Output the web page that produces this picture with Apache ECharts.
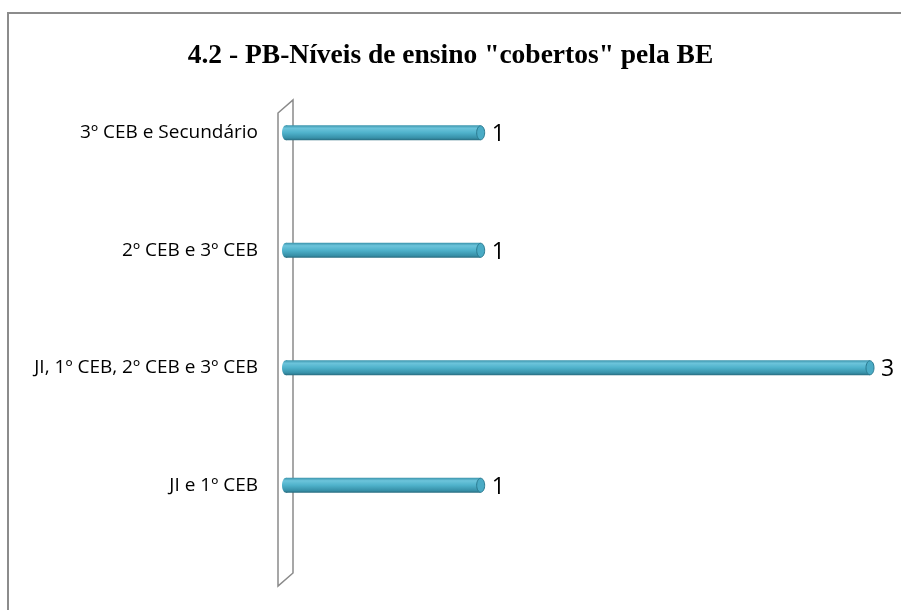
<!DOCTYPE html>
<html>
<head>
<meta charset="utf-8">
<script src="https://cdn.jsdelivr.net/npm/echarts@6/dist/echarts.min.js"></script>
<style>
  html, body { margin: 0; padding: 0; background: #fff; }
  #chart { width: 901px; height: 610px; }
</style>
</head>
<body>
<div id="chart"></div>
<script>
// bottom-to-top, as a category axis lists them
var categories = ['JI e 1º CEB', 'JI, 1º CEB, 2º CEB e 3º CEB', '2º CEB e 3º CEB', '3º CEB e Secundário'];
var counts = [1, 3, 1, 1];
var titleText = '4.2 - PB-Níveis de ensino "cobertos" pela BE';

var chart = echarts.init(document.getElementById('chart'));

var barFill = new echarts.graphic.LinearGradient(0, 0, 0, 1, [
    { offset: 0, color: '#3a93ab' },
    { offset: 0.2, color: '#6cc4db' },
    { offset: 0.5, color: '#4fb2cb' },
    { offset: 0.85, color: '#3790a8' },
    { offset: 1, color: '#286b7e' }
]);

function renderCylinder(params, api) {
    var val = api.value(0);
    var cat = api.value(1);
    var start = api.coord([0, cat]);
    var end = api.coord([val, cat]);
    var h = 15, rx = 4;
    var y0 = start[1] - h / 2;
    return {
        type: 'group',
        children: [
            { type: 'ellipse', shape: { cx: start[0], cy: start[1], rx: rx, ry: h / 2 },
              style: { fill: barFill } },
            { type: 'rect', shape: { x: start[0], y: y0, width: end[0] - start[0], height: h },
              style: { fill: barFill } },
            { type: 'ellipse', shape: { cx: end[0], cy: end[1], rx: rx, ry: h / 2 - 0.5 },
              style: { fill: '#4aabc5', stroke: '#2b7a90', lineWidth: 1 } },
            { type: 'text', x: end[0] + 11, y: end[1] + 2,
              style: { text: String(val), fill: '#000', font: '23px "Open Sans"', verticalAlign: 'middle', align: 'left' } }
        ]
    };
}

chart.setOption({
    backgroundColor: '#fff',
    animation: false,
    title: {
        text: titleText,
        left: 'center',
        top: 37,
        textStyle: { fontFamily: 'Liberation Serif', fontWeight: 'bold', fontSize: 27.5, color: '#000' }
    },
    grid: { left: 286, right: 31, top: 74, bottom: 66 },
    xAxis: {
        type: 'value', min: 0, max: 3,
        show: false
    },
    yAxis: {
        type: 'category',
        data: categories,
        axisLine: { show: false },
        axisTick: { show: false },
        splitLine: { show: false },
        axisLabel: { color: '#000', fontFamily: 'Open Sans', fontSize: 19, margin: 28 }
    },
    graphic: [
        { type: 'rect', z: -10, shape: { x: 8, y: 13, width: 900, height: 610 },
          style: { fill: 'none', stroke: '#8c8c8c', lineWidth: 2 } },
        { type: 'polygon', z: -5, shape: { points: [[278, 113], [293, 100], [293, 573], [278, 586]] },
          style: { fill: 'none', stroke: '#8a8a8a', lineWidth: 1.5 } }
    ],
    series: [{
        type: 'custom',
        renderItem: renderCylinder,
        encode: { x: 0, y: 1 },
        data: counts.map(function (v, i) { return [v, i]; }),
        z: 5
    }]
});
</script>
</body>
</html>
